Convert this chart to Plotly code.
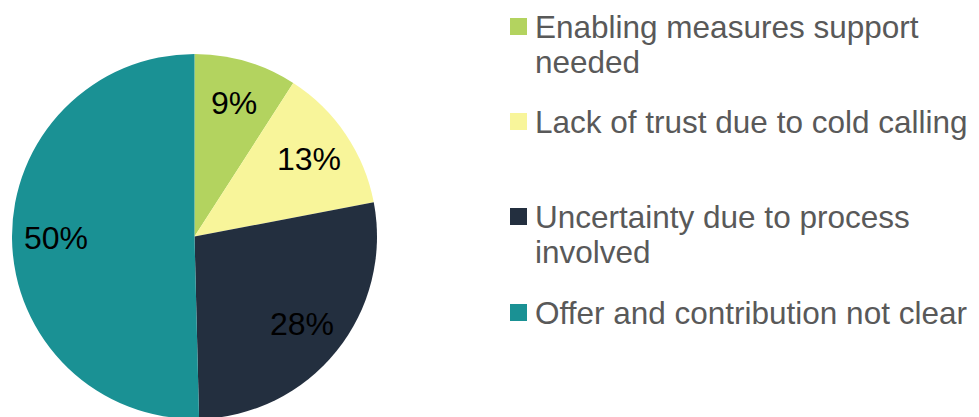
import math
import plotly.graph_objects as go

# Dados do gráfico
categorias = [
    "Enabling measures support needed",
    "Lack of trust due to cold calling",
    "Uncertainty due to process involved",
    "Offer and contribution not clear",
]
valores = [9.1, 12.9, 27.6, 50.4]
cores = ["#b3d35f", "#f8f59a", "#232f3f", "#1a9194"]

# Texto da legenda quebrado em linhas, como no original
legenda_linhas = [
    ["Enabling measures support", "needed"],
    ["Lack of trust due to cold calling"],
    ["Uncertainty due to process", "involved"],
    ["Offer and contribution not clear"],
]

W, H = 979, 417
OFF = 8  # margem do body da página
FONTE = "Liberation Sans, Arial, sans-serif"

# Centro e raio da pizza (px, coordenadas da figura)
cx, cy, R = 194.5 - OFF, 236.5 - OFF, 182.5

fig = go.Figure(
    go.Pie(
        labels=categorias,
        values=valores,
        marker=dict(colors=cores, line=dict(width=0)),
        sort=False,
        direction="clockwise",
        rotation=0,
        textinfo="none",
        domain=dict(x=[(cx - R) / W, (cx + R) / W], y=[1 - (cy + R) / H, 1 - (cy - R) / H]),
        showlegend=False,
        hoverinfo="label+percent",
    )
)

# Rótulos de porcentagem dentro das fatias (no ângulo médio de cada fatia)
total = sum(valores)
acum = 0
for v in valores:
    meio = (acum + v / 2) / total * 2 * math.pi
    acum += v
    r = 0.76 * R
    fig.add_annotation(
        text=f"{round(v / total * 100)}%",
        xref="paper", yref="paper",
        x=(cx + r * math.sin(meio)) / W,
        y=1 - (cy - r * math.cos(meio)) / H,
        xanchor="center", yanchor="middle",
        showarrow=False,
        font=dict(size=32, color="black", family=FONTE),
    )

# Legenda manual (quadrado + texto)
topo_entrada = [27, 122, 217, 313]  # centro da primeira linha de cada item, em px
for cor, linhas, y0 in zip(cores, legenda_linhas, topo_entrada):
    y0 = y0 - OFF
    fig.add_shape(
        type="rect",
        xref="paper", yref="paper",
        x0=(510 - OFF) / W, x1=(527 - OFF) / W,
        y0=1 - (y0 - 9) / H, y1=1 - (y0 + 8) / H,
        fillcolor=cor, line=dict(width=0),
    )
    for i, txt in enumerate(linhas):
        fig.add_annotation(
            text=txt,
            xref="paper", yref="paper",
            x=(533 - OFF) / W, y=1 - (y0 + i * 35) / H,
            xanchor="left", yanchor="middle",
            showarrow=False,
            font=dict(size=31.5, color="#595959", family=FONTE),
        )

fig.update_layout(
    width=W,
    height=H,
    margin=dict(l=0, r=0, t=0, b=0),
    paper_bgcolor="white",
    plot_bgcolor="white",
)

fig.write_html("out.html")
